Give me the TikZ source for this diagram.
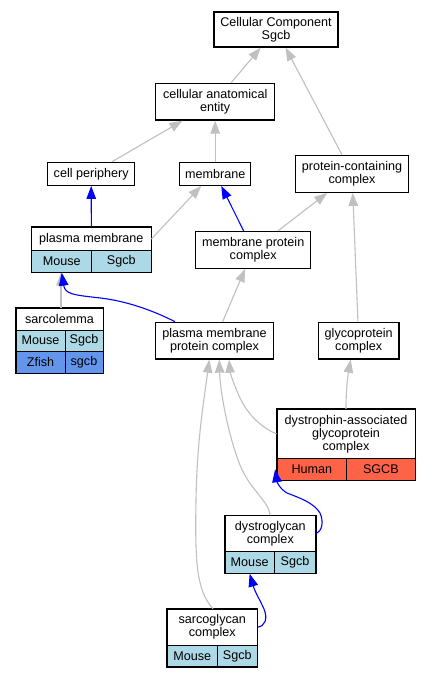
\documentclass[tikz,border=0pt]{standalone}
\usepackage{fontspec}
\setmainfont{Liberation Sans}
\usetikzlibrary{arrows.meta}
\definecolor{lb}{HTML}{ADD8E6}
\definecolor{cbl}{HTML}{6495ED}
\definecolor{tom}{HTML}{FF6347}
\definecolor{edgegray}{HTML}{C0C0C0}
\begin{document}
\begin{tikzpicture}[x=1pt,y=-1pt,
  txt/.style={font={\fontsize{12.6pt}{13pt}\selectfont}},
  box/.style={txt,draw=black,line width=1.3pt,fill=white,inner sep=0pt,align=center},
  cell/.style={txt,draw=black,line width=0.8pt,inner sep=0pt,align=center},
  frame/.style={draw=black,line width=1.3pt},
  gedge/.style={draw=edgegray,line width=1.1pt,-{Triangle[length=13pt,width=9.5pt]}},
  bedge/.style={draw=blue,line width=1.1pt,-{Triangle[length=13pt,width=9.5pt]}}]
\useasboundingbox (0,0) rectangle (429,677);
\fill[white] (0,0) rectangle (429,677);

% simple boxes
\node[box,minimum width=124pt,minimum height=35pt] (cc) at (276,29.5) {Cellular Component\\Sgcb};
\node[box,minimum width=119pt,minimum height=36.7pt] (cae) at (215.2,101.7) {cellular anatomical\\entity};
\node[box,minimum width=87pt,minimum height=23pt] (cp) at (91.2,173.8) {cell periphery};
\node[box,minimum width=71pt,minimum height=23pt] (mem) at (215.2,173.8) {membrane};
\node[box,minimum width=112.6pt,minimum height=37pt] (pcc) at (352,173.8) {protein-containing\\complex};
\node[box,minimum width=115pt,minimum height=36.6pt] (mpc) at (253.2,250) {membrane protein\\complex};
\node[box,minimum width=117.6pt,minimum height=36.7pt] (pmpc) at (214.5,340.7) {plasma membrane\\protein complex};
\node[box,minimum width=80.7pt,minimum height=36.7pt] (gpc) at (358.7,340.7) {glycoprotein\\complex};

% plasma membrane table
\node[cell,fill=white,minimum width=119.3pt,minimum height=23.4pt] (pmh) at (91.35,239) {plasma membrane};
\node[cell,fill=lb,minimum width=60pt,minimum height=21.6pt] (pma) at (61.7,261.5) {Mouse};
\node[cell,fill=lb,minimum width=59.3pt,minimum height=21.6pt] (pmb) at (121.35,261.5) {Sgcb};
\draw[frame] (pmh.north west) rectangle (pmb.south east);

% sarcolemma table
\node[cell,fill=white,minimum width=87pt,minimum height=22pt] (slh) at (59.5,319) {sarcolemma};
\node[cell,fill=lb,minimum width=49pt,minimum height=21pt] (sla) at (40.5,340.5) {Mouse};
\node[cell,fill=lb,minimum width=38pt,minimum height=21pt] (slb) at (84,340.5) {Sgcb};
\node[cell,fill=cbl,minimum width=49pt,minimum height=22pt] (slc) at (40.5,362) {Zfish};
\node[cell,fill=cbl,minimum width=38pt,minimum height=22pt] (sld) at (84,362) {sgcb};
\draw[frame] (slh.north west) rectangle (sld.south east);

% dystrophin-associated glycoprotein complex table
\node[cell,fill=white,minimum width=138pt,minimum height=49.2pt] (dagch) at (346,433.9) {dystrophin-associated\\glycoprotein\\complex};
\node[cell,fill=tom,minimum width=69.7pt,minimum height=21.5pt] (dagca) at (311.85,469.25) {Human};
\node[cell,fill=tom,minimum width=68.3pt,minimum height=21.5pt] (dagcb) at (380.85,469.25) {SGCB};
\draw[frame] (dagch.north west) rectangle (dagcb.south east);

% dystroglycan complex table
\node[cell,fill=white,minimum width=90.7pt,minimum height=36pt] (dgch) at (270.35,533.7) {dystroglycan\\complex};
\node[cell,fill=lb,minimum width=49.3pt,minimum height=21.6pt] (dgca) at (249.65,562.5) {Mouse};
\node[cell,fill=lb,minimum width=41.4pt,minimum height=21.6pt] (dgcb) at (295,562.5) {Sgcb};
\draw[frame] (dgch.north west) rectangle (dgcb.south east);

% sarcoglycan complex table
\node[cell,fill=white,minimum width=90pt,minimum height=35.7pt] (sgch) at (212.3,627.15) {sarcoglycan\\complex};
\node[cell,fill=lb,minimum width=50pt,minimum height=21.7pt] (sgca) at (192.3,655.85) {Mouse};
\node[cell,fill=lb,minimum width=40pt,minimum height=21.7pt] (sgcb) at (237.3,655.85) {Sgcb};
\draw[frame] (sgch.north west) rectangle (sgcb.south east);

% gray edges
\draw[gedge] (cae) -- (cc);
\draw[gedge] (pcc) -- (cc);
\draw[gedge] (cp) -- (cae);
\draw[gedge] (mem) -- (cae);
\draw[gedge] (pmh.east) -- ([xshift=-14pt]mem.south);
\draw[gedge] (mpc) -- (pcc);
\draw[gedge] ([xshift=1.5pt]slh.north) -- ([xshift=1.5pt]slh.north |- pma.south);
\draw[gedge] (pmpc) -- (mpc);
\draw[gedge] (gpc) -- (pcc);
\draw[gedge] (dagch.north) .. controls (346,395) and (347,380) .. ([xshift=-8pt]gpc.south);
\draw[gedge] (dagch.west) .. controls (262,428) and (248,415) .. (240,398) .. controls (234,385) and (230,372) .. ([xshift=14.5pt]pmpc.south);
\draw[gedge] (dgch.north) .. controls (268,500) and (250,490) .. (240,465) .. controls (228,435) and (220,390) .. ([xshift=4.8pt]pmpc.south);
\draw[gedge] ([xshift=0.7pt]sgch.north) .. controls (196,590) and (195,560) .. (196,500) .. controls (197,440) and (204,400) .. ([xshift=-5.2pt]pmpc.south);

% blue edges
\draw[bedge] (pmh.north) -- (cp.south);
\draw[bedge] (mpc) -- (mem);
\draw[bedge] ([xshift=-39.5pt]pmpc.north) .. controls (140,304) and (112,299) .. (96,297.5) .. controls (74,295) and (65,294) .. (pma.south);
\draw[bedge] (dgch.east) .. controls (322,531) and (324,522) .. (320,513) .. controls (314,503) and (300,498) .. (287,493) .. controls (280,489) and (277,482) .. ([xshift=-1.5pt]dagca.west);
\draw[bedge] (sgch.east) .. controls (265,626) and (268,619) .. (264,609) .. controls (260,600) and (255,592) .. (dgca.south);
\end{tikzpicture}
\end{document}
